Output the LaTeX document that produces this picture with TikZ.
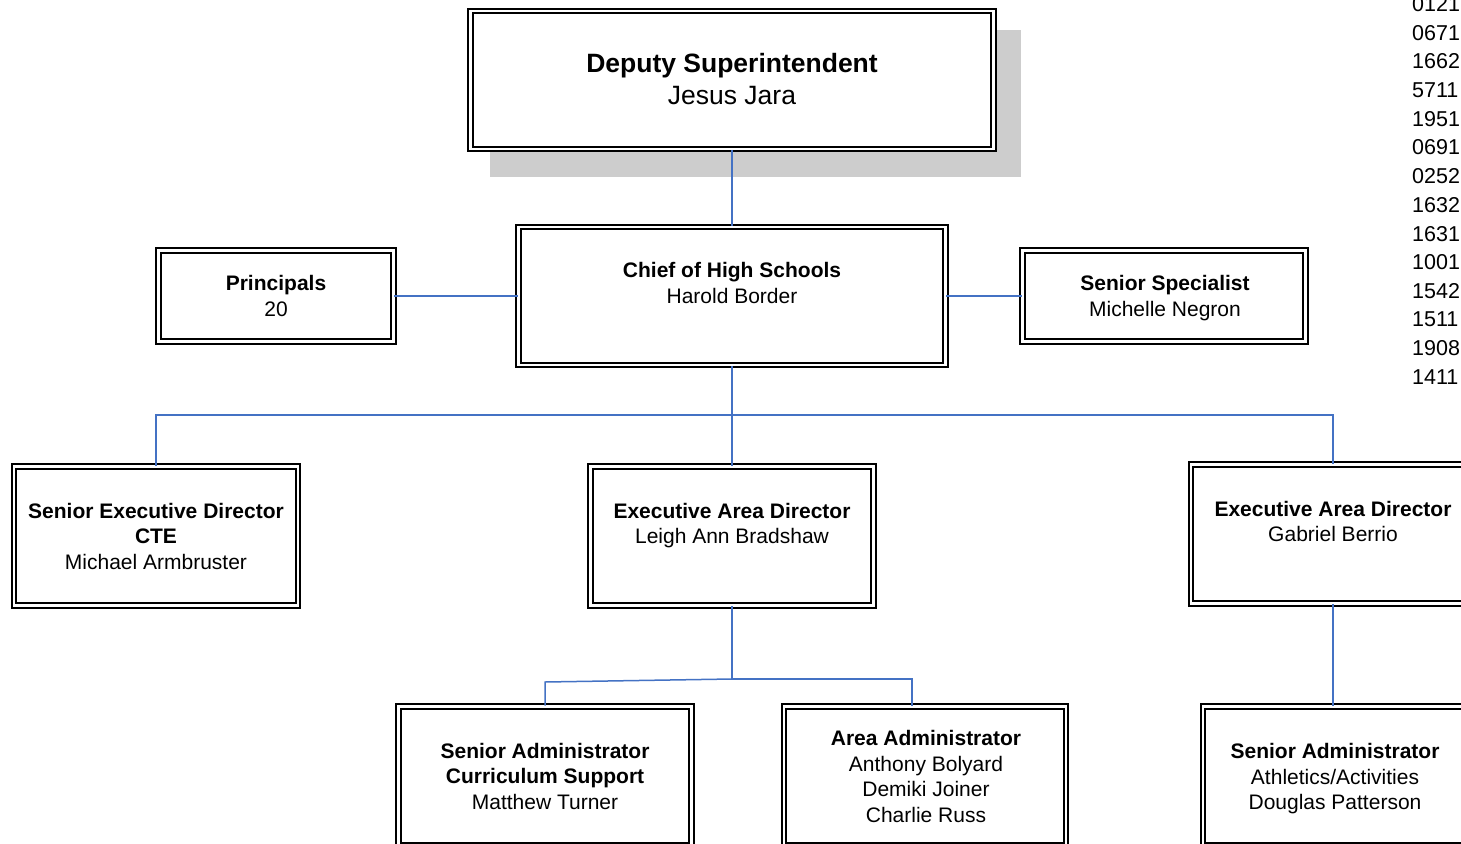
\documentclass[tikz,border=0pt]{standalone}
\usepackage{fontspec}
\setmainfont{Liberation Sans}
\definecolor{conn}{HTML}{4472C4}
\definecolor{shadowgray}{HTML}{CDCDCD}
\begin{document}
\begin{tikzpicture}[x=1pt,y=-1pt,
  box/.style={draw=black, line width=1.8pt, double=white, double distance=2.6pt, fill=white, inner sep=0pt},
  txt/.style={align=center, inner sep=0pt, font=\fontsize{21}{25.5}\selectfont},
  bigtxt/.style={align=center, inner sep=0pt, font=\fontsize{26.5}{32}\selectfont},
  num/.style={anchor=west, inner sep=0pt, font=\fontsize{21.5}{25}\selectfont},
  link/.style={draw=conn, line width=1.5pt}]
\clip (0,0) rectangle (1461,843);
\fill[white] (0,0) rectangle (1461,843);
% shadow of top box
\fill[shadowgray] (490,30) rectangle (1021,177);
% boxes (outer edge matches reference, path inset by 3.1)
\node[box, minimum width=523, minimum height=138] (dep) at (732,80) {};
\node[box, minimum width=427, minimum height=138] (chief) at (732,296) {};
\node[box, minimum width=235, minimum height=91] (prin) at (276,296) {};
\node[box, minimum width=283, minimum height=91] (spec) at (1164,296) {};
\node[box, minimum width=284, minimum height=139] (cte) at (156,536) {};
\node[box, minimum width=283, minimum height=139] (brad) at (732,536) {};
\node[box, minimum width=284, minimum height=139] (berr) at (1333,534) {};
\node[box, minimum width=293, minimum height=139] (cur) at (545,776) {};
\node[box, minimum width=282, minimum height=139] (area) at (925,776) {};
\node[box, minimum width=264, minimum height=139] (ath) at (1335,776) {};
% texts
\node[bigtxt] (tdep) at (732,79) {\textbf{Deputy Superintendent}\\Jesus Jara};
\node[txt] (tchief) at (732,283) {\textbf{Chief of High Schools}\\Harold Border};
\node[txt] (tprin) at (276,296) {\textbf{Principals}\\20};
\node[txt] (tspec) at (1165,298) {\textbf{Senior Specialist}\\Michelle Negron};
\node[txt] (tcte) at (156,536) {\textbf{Senior Executive Director}\\\textbf{CTE}\\Michael Armbruster};
\node[txt] (tbrad) at (732,525.5) {\textbf{Executive Area Director}\\Leigh Ann Bradshaw};
\node[txt] (tberr) at (1333,521.5) {\textbf{Executive Area Director}\\Gabriel Berrio};
\node[txt] (tcur) at (545,776) {\textbf{Senior Administrator}\\\textbf{Curriculum Support}\\Matthew Turner};
\node[txt] (tarea) at (926,776.5) {\textbf{Area Administrator}\\Anthony Bolyard\\Demiki Joiner\\Charlie Russ};
\node[txt] (tath) at (1335,779) {\textbf{Senior Administrator}\\Athletics/Activities\\Douglas Patterson};
% numbers column
\foreach \v [count=\i from 0] in {0121,0671,1662,5711,1951,0691,0252,1632,1631,1001,1542,1511,1908,1411}
  \node[num] (n\i) at (1412,{4+28.7*\i}) {\v};
% connectors
\coordinate (j1) at (732,415);
\coordinate (j2) at (732,679);
\coordinate (j3) at (545,682);
\draw[link] (dep.south) -- (chief.north);
\draw[link] (prin.east) -- (chief.west);
\draw[link] (chief.east) -- (spec.west);
\draw[link] (chief.south) -- (j1);
\draw[link] (j1) -| (cte.north);
\draw[link] (j1) -| (berr.north);
\draw[link] (j1) -- (brad.north);
\draw[link] (brad.south) -- (j2);
\draw[link] (j2) -- (j3) -- (cur.north);
\draw[link] (j2) -| (area.north -| 912,0);
\draw[link] (berr.south) -- (ath.north -| berr.south);
\end{tikzpicture}
\end{document}
